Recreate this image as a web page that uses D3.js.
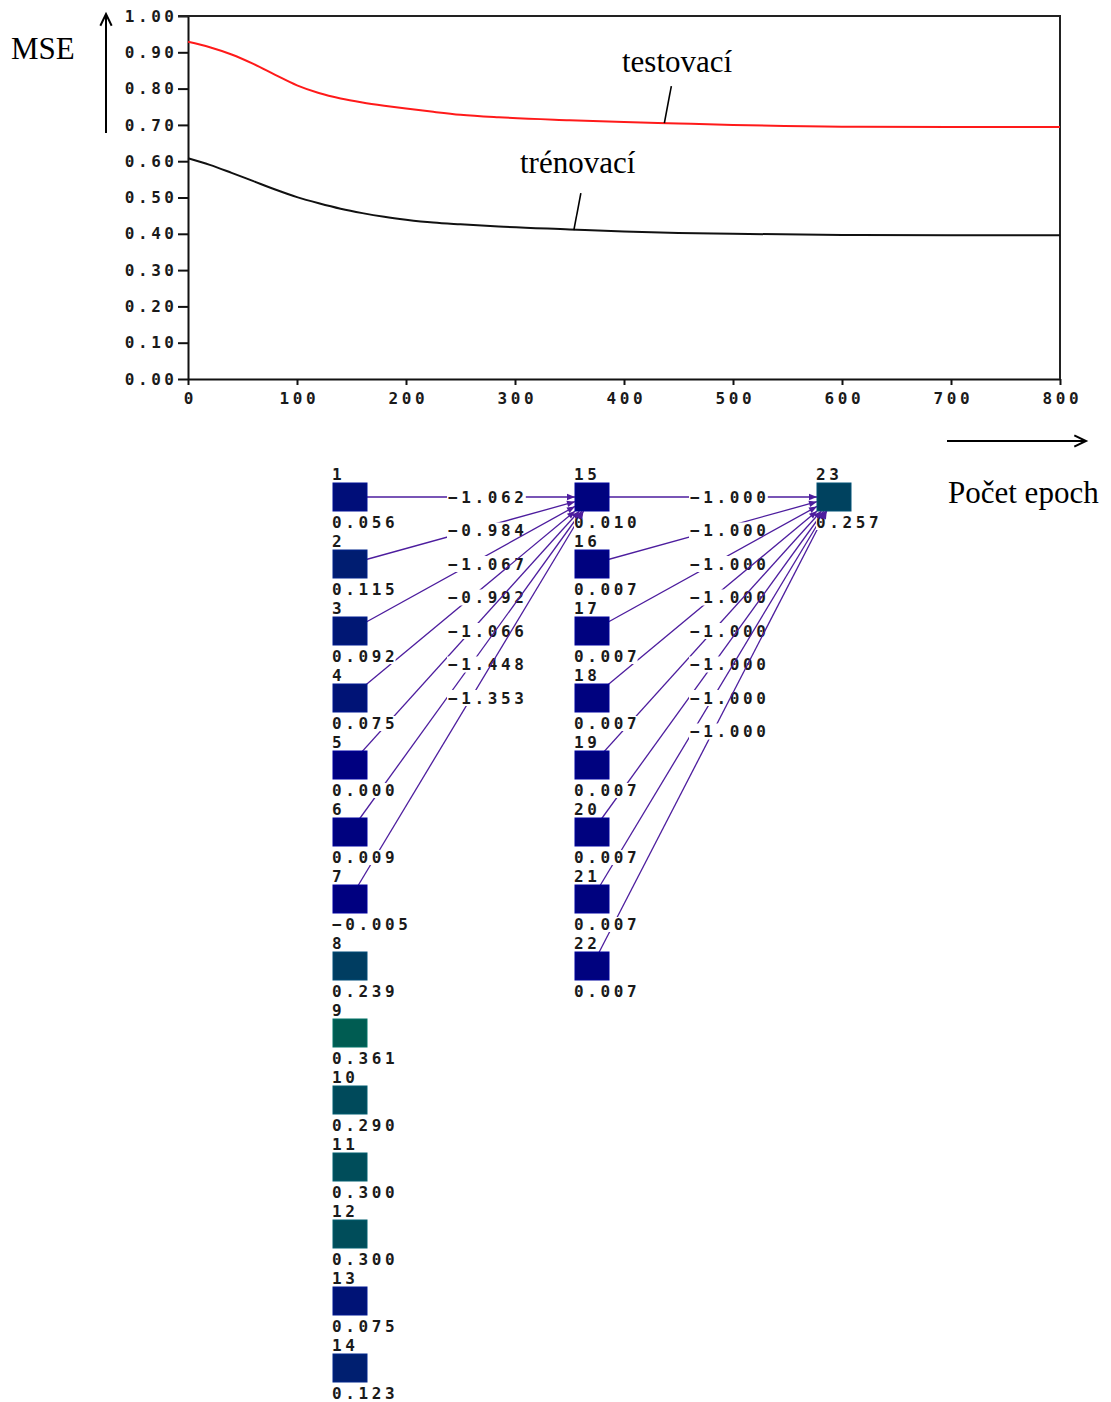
<!DOCTYPE html>
<html>
<head>
<meta charset="utf-8">
<script src="https://cdn.jsdelivr.net/npm/d3@7"></script>
<style>
  body { margin: 0; background: #fff; }
  .mono { font-family: "DejaVu Sans Mono", monospace; font-size: 16px; font-weight: bold; letter-spacing: 3.6px; fill: #1a1a1a; }
  .serif { font-family: "Liberation Serif", "Times New Roman", serif; font-size: 31px; fill: #000; }
</style>
</head>
<body>
<script>
var W = 1111, H = 1402;
var LS = 3.6;

// MSE curves
var epochs   = [0, 20, 40, 60, 80, 100, 120, 140, 160, 180, 200, 225, 250, 285, 350, 400, 450, 500, 600, 700, 800];
var testMse  = [0.929, 0.914, 0.894, 0.868, 0.838, 0.809, 0.788, 0.773, 0.762, 0.753, 0.745, 0.736, 0.728, 0.721, 0.713, 0.708, 0.704, 0.700, 0.695, 0.694, 0.694];
var trainMse = [0.608, 0.590, 0.568, 0.545, 0.522, 0.501, 0.484, 0.469, 0.457, 0.447, 0.439, 0.431, 0.426, 0.420, 0.412, 0.406, 0.402, 0.400, 0.397, 0.396, 0.396];
var yTicks = [0, 0.1, 0.2, 0.3, 0.4, 0.5, 0.6, 0.7, 0.8, 0.9, 1.0];
var xTicks = [0, 100, 200, 300, 400, 500, 600, 700, 800];

// network
var inputIds    = [1, 2, 3, 4, 5, 6, 7, 8, 9, 10, 11, 12, 13, 14];
var inputVals   = [0.056, 0.115, 0.092, 0.075, 0.000, 0.009, -0.005, 0.239, 0.361, 0.290, 0.300, 0.300, 0.075, 0.123];
var hiddenIds   = [15, 16, 17, 18, 19, 20, 21, 22];
var hiddenVals  = [0.010, 0.007, 0.007, 0.007, 0.007, 0.007, 0.007, 0.007];
var outputIds   = [23];
var outputVals  = [0.257];
var weightsIn   = [-1.062, -0.984, -1.067, -0.992, -1.066, -1.448, -1.353];   // 1..7 -> 15
var weightsOut  = [-1.000, -1.000, -1.000, -1.000, -1.000, -1.000, -1.000, -1.000]; // 15..22 -> 23

var svg = d3.select("body").append("svg").attr("width", W).attr("height", H);
svg.append("rect").attr("width", W).attr("height", H).attr("fill", "#fff");

function arrowOpen(g, x1, y1, x2, y2) {
  var a = Math.atan2(y2 - y1, x2 - x1), L = 13, s = 0.45;
  g.append("line").attr("x1", x1).attr("y1", y1).attr("x2", x2).attr("y2", y2);
  g.append("path").attr("fill", "none")
    .attr("d", "M" + (x2 - L * Math.cos(a - s)) + "," + (y2 - L * Math.sin(a - s)) +
               "L" + x2 + "," + y2 +
               "L" + (x2 - L * Math.cos(a + s)) + "," + (y2 - L * Math.sin(a + s)));
}

/*
 * MSE chart
 */
function drawChart() {
  var x = d3.scaleLinear().domain([0, 800]).range([188, 1060]);
  var y = d3.scaleLinear().domain([0, 1]).range([379, 16]);

  var gy = svg.append("g").attr("transform", "translate(188,0)")
    .call(d3.axisLeft(y).tickValues(yTicks).tickFormat(d3.format(".2f")).tickSize(10).tickSizeOuter(0).tickPadding(5));
  gy.selectAll("text").attr("class", "mono").attr("dx", LS + 1).attr("font-size", null).attr("font-family", null);

  var gx = svg.append("g").attr("transform", "translate(0,379)")
    .call(d3.axisBottom(x).tickValues(xTicks).tickSize(6).tickSizeOuter(0).tickPadding(8));
  gx.selectAll("text").attr("class", "mono").attr("dx", LS / 2).attr("font-size", null).attr("font-family", null);

  svg.selectAll(".domain").attr("stroke", "#111").attr("stroke-width", 2);
  svg.selectAll(".tick line").attr("stroke", "#111").attr("stroke-width", 2);

  // frame top + right
  svg.append("path").attr("fill", "none").attr("stroke", "#222").attr("stroke-width", 2)
    .attr("d", "M" + (x(0) - 10) + "," + y(1) + "H" + x(800) + "V" + y(0));

  var line = d3.line().x(function (d) { return x(d[0]); }).y(function (d) { return y(d[1]); })
    .curve(d3.curveMonotoneX);

  svg.append("path").datum(d3.zip(epochs, trainMse))
    .attr("fill", "none").attr("stroke", "#111").attr("stroke-width", 2).attr("d", line);
  svg.append("path").datum(d3.zip(epochs, testMse))
    .attr("fill", "none").attr("stroke", "#ff1a1a").attr("stroke-width", 2).attr("d", line);

  // annotations
  var ann = [
    { text: "testovací", epoch: 437, val: 0.705, tx: 622, ty: 72 },
    { text: "trénovací", epoch: 354, val: 0.410, tx: 520, ty: 173 }
  ];
  ann.forEach(function (a) {
    svg.append("text").attr("class", "serif").attr("x", a.tx).attr("y", a.ty).text(a.text);
    svg.append("line").attr("stroke", "#000").attr("stroke-width", 1.6)
      .attr("x1", x(a.epoch) + 7).attr("y1", y(a.val) - 37)
      .attr("x2", x(a.epoch)).attr("y2", y(a.val));
  });

  var ga = svg.append("g").attr("stroke", "#000").attr("stroke-width", 2);
  arrowOpen(ga, 106, 133, 106, 14);
  arrowOpen(ga, 947, 441, 1086, 441);
  svg.append("text").attr("class", "serif").attr("x", 11).attr("y", 59).text("MSE");
  svg.append("text").attr("class", "serif").attr("x", 948).attr("y", 503).text("Počet epoch");
}

/*
 * Network diagram
 */
function drawNetwork() {
  var colX = d3.scaleLinear().domain([0, 2]).range([333, 817]);
  var rowY = d3.scaleLinear().domain([0, 13]).range([483, 1354]);
  var color = d3.scaleLinear().domain([0, 1]).range(["#000080", "#00ff00"]).clamp(true);
  var bw = 34, bh = 28;
  var edgeCol = "#4d1d9e";

  var nodes = [];
  inputIds.forEach(function (id, i) { nodes.push({ id: id, v: inputVals[i], layer: 0, row: i }); });
  hiddenIds.forEach(function (id, i) { nodes.push({ id: id, v: hiddenVals[i], layer: 1, row: i }); });
  outputIds.forEach(function (id, i) { nodes.push({ id: id, v: outputVals[i], layer: 2, row: i }); });
  nodes.forEach(function (n) { n.x = colX(n.layer); n.y = rowY(n.row); n.cx = n.x + bw / 2; n.cy = n.y + bh / 2; });
  var byId = {};
  nodes.forEach(function (n) { byId[n.id] = n; });

  var links = [];
  weightsIn.forEach(function (w, i) { links.push({ s: byId[inputIds[i]], t: byId[15], w: w, k: i }); });
  weightsOut.forEach(function (w, i) { links.push({ s: byId[hiddenIds[i]], t: byId[23], w: w, k: i }); });

  var gE = svg.append("g");
  var heads = [];
  links.forEach(function (l) {
    var dx = l.t.cx - l.s.cx, dy = l.t.cy - l.s.cy;
    var f = Math.min((bw / 2) / Math.abs(dx), dy === 0 ? Infinity : (bh / 2) / Math.abs(dy));
    var ex = l.t.cx - f * dx, ey = l.t.cy - f * dy;
    gE.append("line").attr("stroke", edgeCol).attr("stroke-width", 1.3)
      .attr("x1", l.s.cx).attr("y1", l.s.cy).attr("x2", ex).attr("y2", ey);
    heads.push({ x: ex, y: ey, a: Math.atan2(dy, dx) });

    var lx = colX(l.s.layer) + 115, ly = rowY(l.k * 0.5) + bh / 2;
    var bg = gE.append("rect").attr("fill", "#fff");
    var t = gE.append("text").attr("class", "mono").attr("x", lx).attr("y", ly).attr("dy", "0.35em")
      .text(d3.format(".3f")(l.w).replace("-", "\u2212"));
    var bb = t.node().getBBox();
    bg.attr("x", bb.x - 1).attr("y", ly - 8).attr("width", bb.width - LS + 3).attr("height", 16);
  });

  var gN = svg.append("g");
  gN.selectAll("rect.node").data(nodes).join("rect").attr("class", "node")
    .attr("x", function (d) { return d.x; }).attr("y", function (d) { return d.y; })
    .attr("width", bw).attr("height", bh)
    .attr("fill", function (d) { return color(d.v); })
    .attr("stroke", function (d) { return d3.color(color(d.v)).brighter(0.6); }).attr("stroke-width", 1);

  nodes.forEach(function (n) {
    [{ s: String(n.id), y: n.y - 3 }, { s: d3.format(".3f")(n.v).replace("-", "\u2212"), y: n.y + bh + 17 }]
      .forEach(function (lb) {
        var bg = gN.append("rect").attr("fill", "#fff");
        var t = gN.append("text").attr("class", "mono").attr("x", n.x - 1).attr("y", lb.y).text(lb.s);
        var bb = t.node().getBBox();
        bg.attr("x", bb.x).attr("y", lb.y - 13).attr("width", bb.width - LS + 1).attr("height", 15);
      });
  });

  svg.append("g").selectAll("path").data(heads).join("path")
    .attr("fill", edgeCol)
    .attr("d", "M0,0L-8,-3.2L-8,3.2Z")
    .attr("transform", function (d) { return "translate(" + d.x + "," + d.y + ") rotate(" + (d.a * 180 / Math.PI) + ")"; });
}

drawChart();
drawNetwork();
</script>
</body>
</html>
